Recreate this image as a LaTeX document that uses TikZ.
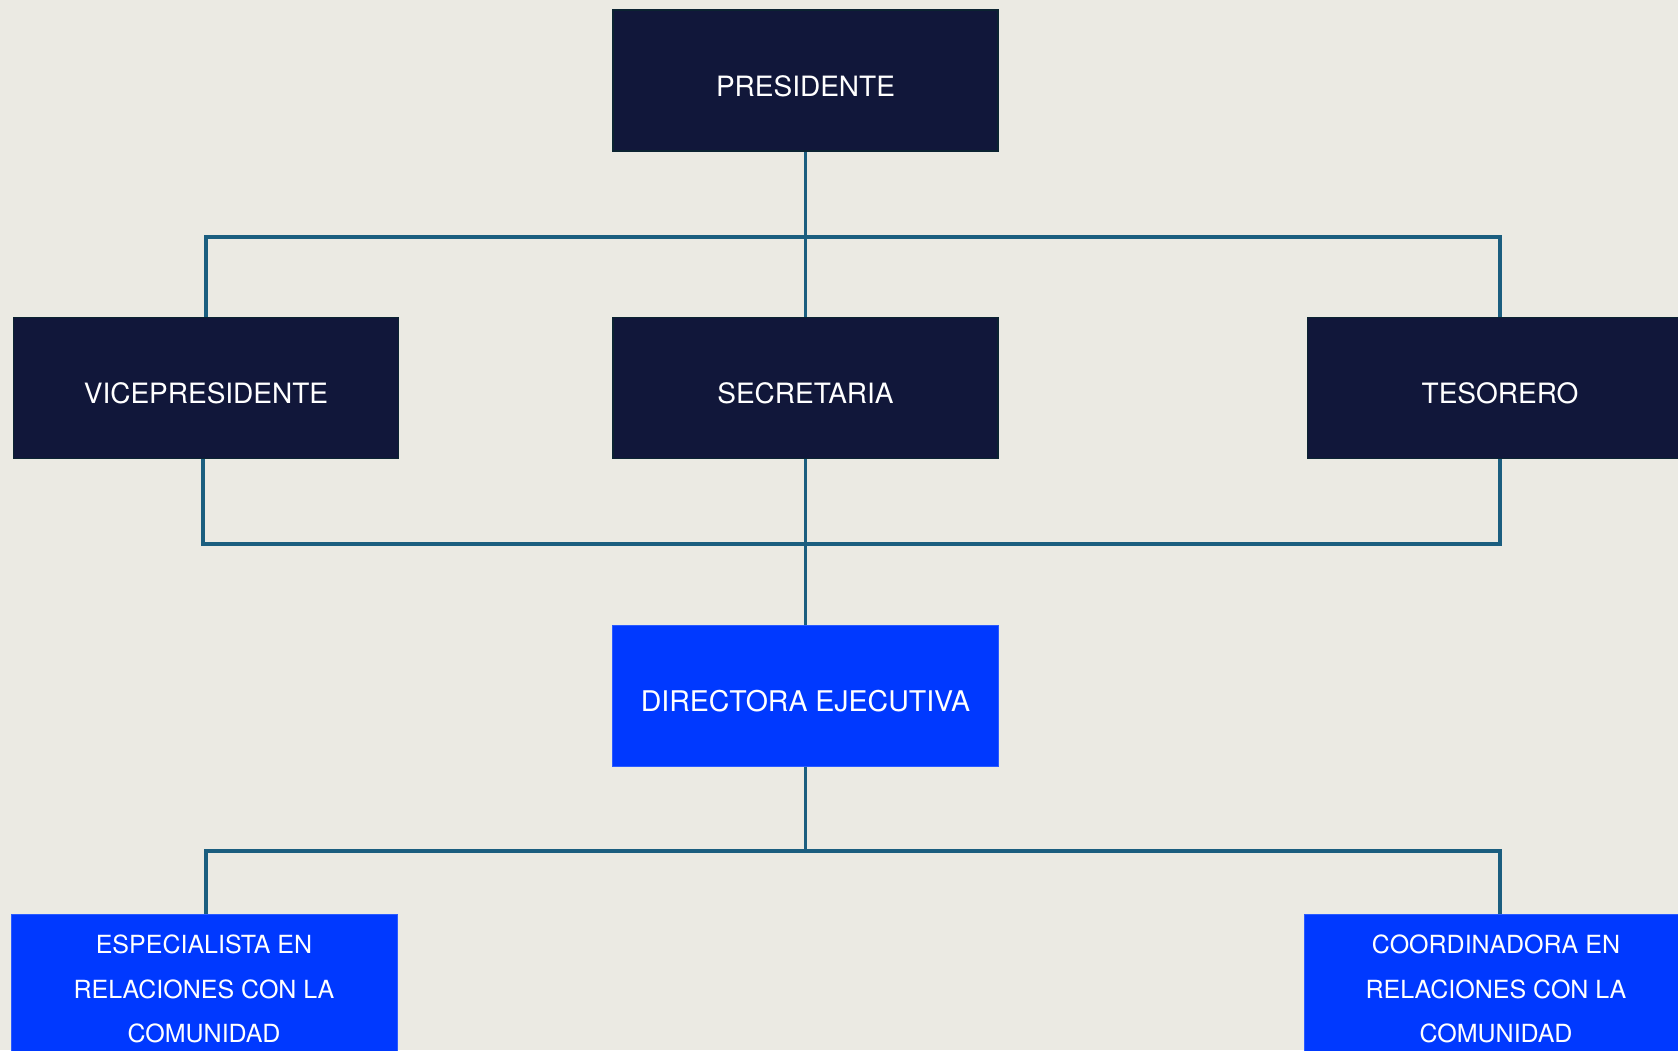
\documentclass[tikz,border=0pt]{standalone}
\usepackage{fontspec}
\setmainfont{TeX Gyre Heros}
\definecolor{bg}{HTML}{EBEAE3}
\definecolor{navy}{HTML}{11173A}
\definecolor{navyedge}{HTML}{0B2331}
\definecolor{royal}{HTML}{0039FF}
\definecolor{royaledge}{HTML}{2A5BFF}
\definecolor{linkcol}{HTML}{1B5E7F}
\begin{document}
\begin{tikzpicture}[x=1pt,y=-1pt,
  darkbox/.style={fill=navy, draw=navyedge, line width=1.5pt, minimum width=385pt, minimum height=141pt, inner sep=0pt, text=white, text height=31.5pt, text depth=0pt, font=\fontsize{28}{34}\selectfont},
  bluebox/.style={fill=royal, draw=royaledge, line width=1pt, minimum width=386pt, minimum height=141pt, inner sep=0pt, text=white, text height=31.5pt, text depth=0pt, font=\fontsize{28.5}{34}\selectfont},
  boxtext/.style={text=white, align=center, font=\fontsize{25}{44.5}\selectfont, inner sep=0pt},
  linkline/.style={draw=linkcol, line width=3.6pt}]
\useasboundingbox (0,0) rectangle (1678,1050);
\clip (0,0) rectangle (1678,1050);
\fill[bg] (0,0) rectangle (1678,1050);

% boxes
\node[darkbox] (pres) at (805.5,80.5) {PRESIDENTE};
\node[darkbox] (vp)   at (206,388)    {VICEPRESIDENTE};
\node[darkbox] (sec)  at (805.5,388)  {SECRETARIA};
\node[darkbox] (tes)  at (1500,388)   {TESORERO};
\node[bluebox] (dir)  at (805.5,695.5) {DIRECTORA EJECUTIVA};
\node[bluebox] (esp)  at (204,984.5)  {};
\node[bluebox] (coord) at (1497,984.5) {};
\node[boxtext] (esptext) at (204,989) {ESPECIALISTA EN\\RELACIONES CON LA\\COMUNIDAD};
\node[boxtext] (coordtext) at (1496,989) {COORDINADORA EN\\RELACIONES CON LA\\COMUNIDAD};

% junction points
\coordinate (t1) at (206,237);
\coordinate (t2) at (1500,237);
\coordinate (b1) at (203,544);
\coordinate (b2) at (1500,544);
\coordinate (d1) at (206,851);
\coordinate (d2) at (1500,851);

% connectors
\draw[linkline] (pres.south) -- (sec.north);
\draw[linkline] (vp.north) -- (t1) -- (t2) -- (tes.north);
\draw[linkline] (vp.south -| b1) -- (b1) -- (b2) -- (tes.south);
\draw[linkline] (sec.south) -- (dir.north);
\draw[linkline] (dir.south) -- (dir.south |- d1);
\draw[linkline] (esp.north -| d1) -- (d1) -- (d2) -- (coord.north -| d2);
\end{tikzpicture}
\end{document}
